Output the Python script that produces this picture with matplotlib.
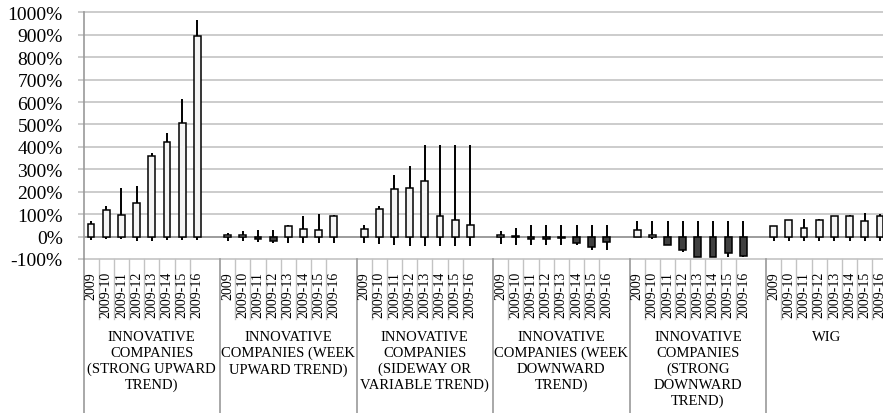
import matplotlib
matplotlib.use("Agg")
import matplotlib.pyplot as plt
from matplotlib.ticker import FuncFormatter, MultipleLocator

plt.rcParams["font.family"] = ["Liberation Serif", "DejaVu Serif"]

PERIODS = ["2009", "2009-10", "2009-11", "2009-12", "2009-13", "2009-14", "2009-15", "2009-16"]
GROUPS = [
    "INNOVATIVE\nCOMPANIES\n(STRONG UPWARD\nTREND)",
    "INNOVATIVE\nCOMPANIES (WEEK\nUPWARD TREND)",
    "INNOVATIVE\nCOMPANIES\n(SIDEWAY OR\nVARIABLE TREND)",
    "INNOVATIVE\nCOMPANIES (WEEK\nDOWNWARD\nTREND)",
    "INNOVATIVE\nCOMPANIES\n(STRONG\nDOWNWARD\nTREND)",
    "WIG",
]

# candles open at 0 %, close / high / low in percent
CLOSE = [
    [57, 119, 95, 150, 360, 421, 507, 896],
    [8, 9, -12, -19, 49, 34, 28, 92],
    [33, 122, 211, 218, 248, 92, 74, 53],
    [6, 2, -10, -12, -5, -30, -45, -22],
    [31, 5, -39, -58, -89, -89, -73, -85],
    [46, 74, 39, 76, 91, 94, 71, 91],
]
HIGH = [
    [69, 138, 217, 227, 372, 462, 612, 966],
    [15, 27, 30, 30, 52, 92, 101, 98],
    [53, 137, 276, 316, 407, 407, 407, 407],
    [24, 39, 53, 53, 53, 53, 53, 53],
    [68, 68, 68, 68, 68, 68, 68, 68],
    [46, 74, 79, 79, 94, 97, 105, 101],
]
LOW = [
    [-15, -13, -13, -18, -18, -16, -16, -16],
    [-18, -18, -25, -30, -30, -30, -30, -30],
    [-28, -33, -37, -40, -43, -43, -43, -43],
    [-33, -36, -36, -36, -36, -36, -58, -58],
    [0, -13, -39, -67, -89, -89, -92, -92],
    [-18, -18, -18, -18, -18, -18, -18, -18],
]

W, H = 883, 414
fig = plt.figure(figsize=(W / 100, H / 100), dpi=100)
fig.patch.set_facecolor("white")

slot_px = 15.17
n_slots = len(GROUPS) * 9 - 1
left_px, top_px, bot_px = 83.5, 13.4, 260.0
ax = fig.add_axes([left_px / W, 1 - bot_px / H,
                   n_slots * slot_px / W, (bot_px - top_px) / H])

GRID = "#c3c3c3"
AXIS = "#9a9a9a"

ax.set_xlim(-0.5, n_slots - 0.5)
ax.set_ylim(-100, 1000)
ax.yaxis.set_major_locator(MultipleLocator(100))
ax.yaxis.set_major_formatter(FuncFormatter(lambda v, _: f"{v:.0f}%"))
ax.tick_params(axis="y", length=4, width=1.2, color=GRID, pad=11, labelsize=14)
ax.tick_params(axis="x", bottom=False, labelbottom=False)
ax.grid(axis="y", color=GRID, linewidth=1.2)
for gl in ax.get_ygridlines():
    gl.set_clip_on(False)
ax.set_axisbelow(True)
for side in ("top", "right", "bottom"):
    ax.spines[side].set_visible(False)
ax.spines["left"].set_color(AXIS)
ax.spines["left"].set_linewidth(1.2)

# category axis crossing at 0 % with small ticks between slots
ax.axhline(0, color=AXIS, linewidth=1.3, zorder=1)
ax.vlines([k - 0.5 for k in range(n_slots + 1)], -4, 0, color=AXIS, linewidth=1.0, zorder=1)

for g in range(len(GROUPS)):
    xs = [g * 9 + i for i in range(len(PERIODS))]
    ax.vlines(xs, LOW[g], HIGH[g], color="black", linewidth=1.4, zorder=2)
    colors = ["#f4f4f4" if c >= 0 else "#404040" for c in CLOSE[g]]
    ax.bar(xs, CLOSE[g], width=0.45, bottom=0, color=colors,
           edgecolor="black", linewidth=1.1, zorder=3)

# multi-level category labels below the plot
xt = ax.get_xaxis_transform()
def fy(px):
    return (bot_px - px) / (bot_px - top_px)

short_bottom = fy(320)
long_bottom = fy(H + 2)
for k in range(n_slots + 1):
    x = k - 0.5
    if k % 9 == 0:
        ax.plot([x, x], [0, long_bottom], transform=xt, color=AXIS,
                linewidth=1.2, clip_on=False)
    elif k % 9 != 8 or k == n_slots:
        ax.plot([x, x], [0, short_bottom], transform=xt, color=GRID,
                linewidth=1.0, clip_on=False)

for g, name in enumerate(GROUPS):
    for i, p in enumerate(PERIODS):
        ax.text(g * 9 + i, fy(272), p, transform=xt, rotation=90,
                ha="center", va="top", fontsize=10)
    n = len(PERIODS) + (1 if g < len(GROUPS) - 1 else 0)
    cx = g * 9 + (n - 1) / 2
    ax.text(cx, fy(331), name, transform=xt, ha="center", va="top",
            fontsize=10.5, linespacing=1.27, multialignment="center")

fig.savefig("out.png", dpi=100)
